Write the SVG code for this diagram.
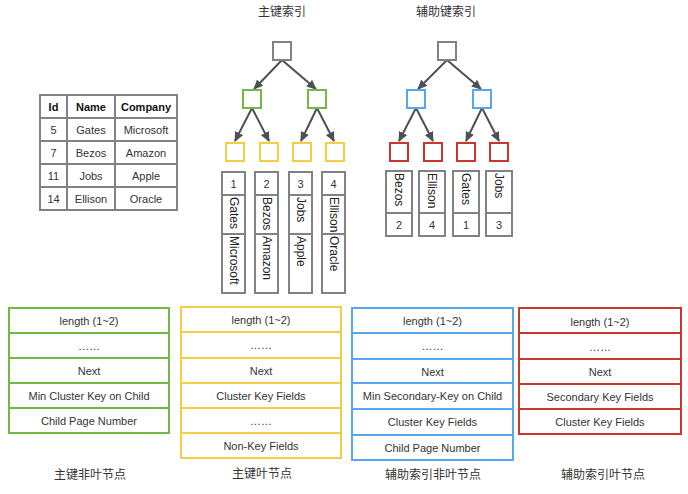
<svg xmlns="http://www.w3.org/2000/svg" width="688" height="494" viewBox="0 0 688 494">
<defs>
<marker id="ah" markerUnits="userSpaceOnUse" markerWidth="10" markerHeight="10" viewBox="0 0 10 10" refX="9" refY="5" orient="auto">
<path d="M0,0.5 L10,5 L0,9.5 Z" fill="#4d5156"/>
</marker>
<style>
.t{font-family:"Liberation Sans",Arial,sans-serif;font-size:11px;fill:#333;text-anchor:middle;dominant-baseline:central}
.tb{font-family:"Liberation Sans",Arial,sans-serif;font-size:11px;font-weight:bold;fill:#111;text-anchor:middle;dominant-baseline:central}
.r{font-family:"Liberation Sans",Arial,sans-serif;font-size:12px;fill:#222;dominant-baseline:central}
.cjk{font-family:"Liberation Sans","Noto Sans CJK SC",sans-serif;font-size:12px;fill:#333;text-anchor:middle;dominant-baseline:central}
.g{fill:#fff;stroke:#808285;stroke-width:2}
.gl{stroke:#808285;stroke-width:2;fill:none}
.grn{fill:#fff;stroke:#72b844;stroke-width:2}
.yel{fill:#fff;stroke:#f4cd46;stroke-width:2}
.blu{fill:#fff;stroke:#58a6ec;stroke-width:2}
.red{fill:#fff;stroke:#c9372c;stroke-width:2}
.gls{stroke:#72b844;stroke-width:2}
.yls{stroke:#f4cd46;stroke-width:2}
.bls{stroke:#58a6ec;stroke-width:2}
.rds{stroke:#c9372c;stroke-width:2}
.a{stroke:#4d5156;stroke-width:2;fill:none;marker-end:url(#ah)}
</style>
</defs>
<rect width="688" height="494" fill="#fff"/>

<!-- Table -->
<g id="table">
<rect x="40" y="95" width="137" height="115" class="g"/>
<line x1="67" y1="95" x2="67" y2="210" class="gl"/>
<line x1="115" y1="95" x2="115" y2="210" class="gl"/>
<line x1="40" y1="118" x2="177" y2="118" class="gl"/>
<line x1="40" y1="141" x2="177" y2="141" class="gl"/>
<line x1="40" y1="164" x2="177" y2="164" class="gl"/>
<line x1="40" y1="187" x2="177" y2="187" class="gl"/>
<text x="53.5" y="106.5" class="tb">Id</text>
<text x="91" y="106.5" class="tb">Name</text>
<text x="146" y="106.5" class="tb">Company</text>
<text x="53.5" y="129.5" class="t">5</text>
<text x="91" y="129.5" class="t">Gates</text>
<text x="146" y="129.5" class="t">Microsoft</text>
<text x="53.5" y="152.5" class="t">7</text>
<text x="91" y="152.5" class="t">Bezos</text>
<text x="146" y="152.5" class="t">Amazon</text>
<text x="53.5" y="175.5" class="t">11</text>
<text x="91" y="175.5" class="t">Jobs</text>
<text x="146" y="175.5" class="t">Apple</text>
<text x="53.5" y="198.5" class="t">14</text>
<text x="91" y="198.5" class="t">Ellison</text>
<text x="146" y="198.5" class="t">Oracle</text>
</g>

<!-- Titles -->
<text x="282" y="12" class="cjk">主键索引</text>
<text x="446" y="12" class="cjk">辅助键索引</text>

<!-- Connectors -->
<g id="connectors">
<line x1="282" y1="60" x2="254" y2="89" class="a"/>
<line x1="282" y1="60" x2="316" y2="89" class="a"/>
<line x1="252" y1="108" x2="235" y2="141" class="a"/>
<line x1="252" y1="108" x2="269" y2="141" class="a"/>
<line x1="317" y1="108" x2="301" y2="141" class="a"/>
<line x1="317" y1="108" x2="334" y2="141" class="a"/>
<line x1="447" y1="60" x2="418" y2="89" class="a"/>
<line x1="447" y1="60" x2="481" y2="89" class="a"/>
<line x1="416" y1="108" x2="399" y2="141" class="a"/>
<line x1="416" y1="108" x2="433" y2="141" class="a"/>
<line x1="482" y1="108" x2="466" y2="141" class="a"/>
<line x1="482" y1="108" x2="499" y2="141" class="a"/>
</g>

<!-- Primary tree nodes -->
<g id="p-root"><rect x="273" y="42" width="18" height="18" class="g"/></g>
<g id="p-n1"><rect x="243" y="90" width="18" height="18" class="grn"/></g>
<g id="p-n2"><rect x="308" y="90" width="18" height="18" class="grn"/></g>
<g id="p-l1"><rect x="226" y="143" width="18" height="18" class="yel"/></g>
<g id="p-l2"><rect x="260" y="143" width="18" height="18" class="yel"/></g>
<g id="p-l3"><rect x="293" y="143" width="18" height="18" class="yel"/></g>
<g id="p-l4"><rect x="326" y="143" width="18" height="18" class="yel"/></g>

<!-- Secondary tree nodes -->
<g id="s-root"><rect x="438" y="42" width="18" height="18" class="g"/></g>
<g id="s-n1"><rect x="407" y="90" width="18" height="18" class="blu"/></g>
<g id="s-n2"><rect x="473" y="90" width="18" height="18" class="blu"/></g>
<g id="s-l1"><rect x="390" y="143" width="18" height="18" class="red"/></g>
<g id="s-l2"><rect x="424" y="143" width="18" height="18" class="red"/></g>
<g id="s-l3"><rect x="457" y="143" width="18" height="18" class="red"/></g>
<g id="s-l4"><rect x="490" y="143" width="18" height="18" class="red"/></g>

<!-- Primary rows -->
<g id="p-row1">
<rect x="222" y="172" width="23" height="121" class="g"/>
<line x1="222" y1="195" x2="245" y2="195" class="gl"/>
<line x1="222" y1="234" x2="245" y2="234" class="gl"/>
<text x="233.5" y="183.5" class="t">1</text>
<text class="r" transform="translate(233.5,197) rotate(90)">Gates</text>
<text class="r" transform="translate(233.5,236) rotate(90)">Microsoft</text>
</g>
<g id="p-row2">
<rect x="255" y="172" width="23" height="121" class="g"/>
<line x1="255" y1="195" x2="278" y2="195" class="gl"/>
<line x1="255" y1="234" x2="278" y2="234" class="gl"/>
<text x="266.5" y="183.5" class="t">2</text>
<text class="r" transform="translate(266.5,197) rotate(90)">Bezos</text>
<text class="r" transform="translate(266.5,236) rotate(90)">Amazon</text>
</g>
<g id="p-row3">
<rect x="289" y="172" width="23" height="121" class="g"/>
<line x1="289" y1="195" x2="312" y2="195" class="gl"/>
<line x1="289" y1="234" x2="312" y2="234" class="gl"/>
<text x="300.5" y="183.5" class="t">3</text>
<text class="r" transform="translate(300.5,197) rotate(90)">Jobs</text>
<text class="r" transform="translate(300.5,236) rotate(90)">Apple</text>
</g>
<g id="p-row4">
<rect x="322" y="172" width="23" height="121" class="g"/>
<line x1="322" y1="195" x2="345" y2="195" class="gl"/>
<line x1="322" y1="234" x2="345" y2="234" class="gl"/>
<text x="333.5" y="183.5" class="t">4</text>
<text class="r" transform="translate(333.5,197) rotate(90)">Ellison</text>
<text class="r" transform="translate(333.5,236) rotate(90)">Oracle</text>
</g>

<!-- Secondary rows -->
<g id="s-row1">
<rect x="386" y="171" width="26" height="65" class="g"/>
<line x1="386" y1="213" x2="412" y2="213" class="gl"/>
<text class="r" transform="translate(399,173) rotate(90)">Bezos</text>
<text x="399" y="225" class="t">2</text>
</g>
<g id="s-row2">
<rect x="419" y="171" width="26" height="65" class="g"/>
<line x1="419" y1="213" x2="445" y2="213" class="gl"/>
<text class="r" transform="translate(432,173) rotate(90)">Ellison</text>
<text x="432" y="225" class="t">4</text>
</g>
<g id="s-row3">
<rect x="453" y="171" width="26" height="65" class="g"/>
<line x1="453" y1="213" x2="479" y2="213" class="gl"/>
<text class="r" transform="translate(466,173) rotate(90)">Gates</text>
<text x="466" y="225" class="t">1</text>
</g>
<g id="s-row4">
<rect x="486" y="171" width="26" height="65" class="g"/>
<line x1="486" y1="213" x2="512" y2="213" class="gl"/>
<text class="r" transform="translate(499,173) rotate(90)">Jobs</text>
<text x="499" y="225" class="t">3</text>
</g>

<!-- Primary non-leaf -->
<g id="p-nonleaf">
<rect x="9" y="308" width="160" height="125" class="grn"/>
<line x1="9" y1="333" x2="169" y2="333" class="gls"/>
<line x1="9" y1="358" x2="169" y2="358" class="gls"/>
<line x1="9" y1="383" x2="169" y2="383" class="gls"/>
<line x1="9" y1="408" x2="169" y2="408" class="gls"/>
<text x="89" y="320.5" class="t">length (1~2)</text>
<text x="89" y="345.5" class="t">……</text>
<text x="89" y="370.5" class="t">Next</text>
<text x="89" y="395.5" class="t">Min Cluster Key on Child</text>
<text x="89" y="420.5" class="t">Child Page Number</text>
<text x="90" y="475" class="cjk">主键非叶节点</text>
</g>

<!-- Primary leaf -->
<g id="p-leaf">
<rect x="181" y="307" width="160" height="151" class="yel"/>
<line x1="181" y1="332" x2="341" y2="332" class="yls"/>
<line x1="181" y1="358" x2="341" y2="358" class="yls"/>
<line x1="181" y1="383" x2="341" y2="383" class="yls"/>
<line x1="181" y1="408" x2="341" y2="408" class="yls"/>
<line x1="181" y1="433" x2="341" y2="433" class="yls"/>
<text x="261" y="320" class="t">length (1~2)</text>
<text x="261" y="345" class="t">……</text>
<text x="261" y="370.5" class="t">Next</text>
<text x="261" y="395.5" class="t">Cluster Key Fields</text>
<text x="261" y="420.5" class="t">……</text>
<text x="261" y="445.5" class="t">Non-Key Fields</text>
<text x="262" y="474" class="cjk">主键叶节点</text>
</g>

<!-- Secondary non-leaf -->
<g id="s-nonleaf">
<rect x="352" y="308" width="161" height="152" class="blu"/>
<line x1="352" y1="333" x2="513" y2="333" class="bls"/>
<line x1="352" y1="359" x2="513" y2="359" class="bls"/>
<line x1="352" y1="383" x2="513" y2="383" class="bls"/>
<line x1="352" y1="409" x2="513" y2="409" class="bls"/>
<line x1="352" y1="435" x2="513" y2="435" class="bls"/>
<text x="432.5" y="320.5" class="t">length (1~2)</text>
<text x="432.5" y="346" class="t">……</text>
<text x="432.5" y="371.5" class="t">Next</text>
<text x="432.5" y="396" class="t">Min Secondary-Key on Child</text>
<text x="432.5" y="422" class="t">Cluster Key Fields</text>
<text x="432.5" y="447.5" class="t">Child Page Number</text>
<text x="433" y="475" class="cjk">辅助索引非叶节点</text>
</g>

<!-- Secondary leaf -->
<g id="s-leaf">
<rect x="519" y="308" width="162" height="126" class="red"/>
<line x1="519" y1="333" x2="681" y2="333" class="rds"/>
<line x1="519" y1="359" x2="681" y2="359" class="rds"/>
<line x1="519" y1="384" x2="681" y2="384" class="rds"/>
<line x1="519" y1="409" x2="681" y2="409" class="rds"/>
<text x="600" y="321.5" class="t">length (1~2)</text>
<text x="600" y="346.5" class="t">……</text>
<text x="600" y="371.5" class="t">Next</text>
<text x="600" y="396.5" class="t">Secondary Key Fields</text>
<text x="600" y="421.5" class="t">Cluster Key Fields</text>
<text x="603" y="475" class="cjk">辅助索引叶节点</text>
</g>
</svg>
